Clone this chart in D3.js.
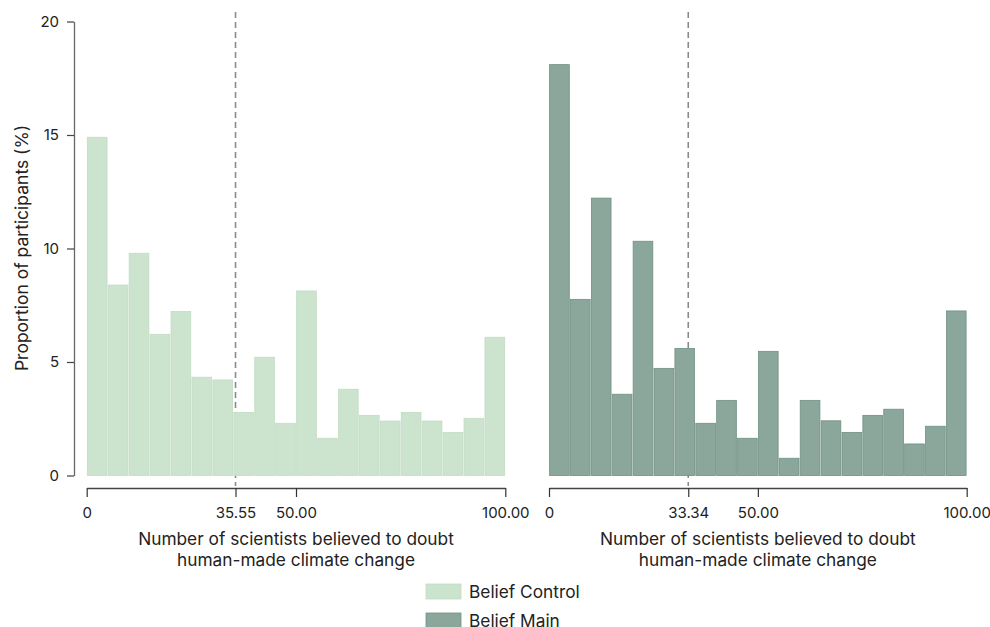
<!DOCTYPE html>
<html>
<head>
<meta charset="utf-8">
<script src="https://cdn.jsdelivr.net/npm/d3@7"></script>
<style>
	body { margin: 0; background: #fff; }
	text { font-family: Inter, "Noto Sans", sans-serif; fill: #222; }
</style>
</head>
<body>
<div id="chart"></div>
<script>
// histogram bins: 20 bins of width 5 on 0..100
const bin_edges = d3.range(0, 100, 5);
const control_values = [14.90, 8.39, 9.79, 6.22, 7.23, 4.33, 4.21, 2.78, 5.21, 2.30,
	8.13, 1.64, 3.80, 2.65, 2.40, 2.78, 2.40, 1.90, 2.52, 6.09];
const main_values = [18.10, 7.76, 12.22, 3.58, 10.32, 4.72, 5.60, 2.30, 3.31, 1.64,
	5.47, 0.76, 3.31, 2.41, 1.90, 2.65, 2.92, 1.39, 2.17, 7.25];
const control_mean = 35.55;
const main_mean = 33.34;
const y_ticks = [0, 5, 10, 15, 20];
const series_names = ["Belief Control", "Belief Main"];
const colors = ["#cce3cd", "#8ba69b"];
const strokes = ["#c2dcc4", "#6f9184"];

const width = 990, height = 627;

const svg = d3.select("#chart").append("svg")
	.attr("width", width)
	.attr("height", height);

const y = d3.scaleLinear().domain([0, 20]).range([475.5, 21.5]);

// y axis only on the left panel
svg.append("g")
	.attr("transform", "translate(74,0)")
	.call(d3.axisLeft(y).tickValues(y_ticks).tickSize(7).tickSizeOuter(0).tickPadding(8))
	.call(g => g.select(".domain").attr("stroke", "#666").attr("stroke-width", 1.3))
	.call(g => g.selectAll(".tick line").attr("stroke", "#444").attr("stroke-width", 1.2))
	.call(g => g.selectAll("text").attr("font-size", 15).attr("fill", "#222")
		.attr("font-family", "Inter, 'Noto Sans', sans-serif"));

svg.append("text")
	.attr("transform", "translate(28,248) rotate(-90)")
	.attr("text-anchor", "middle")
	.attr("font-size", 17.5)
	.text("Proportion of participants (%)");

const panels = [
	{ x0: 86.7, x1: 505.3, values: control_values, mean: control_mean },
	{ x0: 549, x1: 966.7, values: main_values, mean: main_mean }
];

panels.forEach((p, i) => {
	const x = d3.scaleLinear().domain([0, 100]).range([p.x0, p.x1]);
	const g = svg.append("g");

	// mean line (behind bars)
	g.append("line")
		.attr("x1", x(p.mean)).attr("x2", x(p.mean))
		.attr("y1", 12).attr("y2", 486)
		.attr("stroke", "#8a8a8a")
		.attr("stroke-width", 1.6)
		.attr("stroke-dasharray", "6,4");

	g.selectAll("rect.bar")
		.data(bin_edges.map((lo, k) => ({ lo: lo, hi: lo + 5, v: p.values[k] })))
		.join("rect")
		.attr("class", "bar")
		.attr("x", d => x(d.lo) + 0.6)
		.attr("width", d => x(d.hi) - x(d.lo) - 1.2)
		.attr("y", d => y(d.v))
		.attr("height", d => y(0) - y(d.v))
		.attr("fill", colors[i])
		.attr("stroke", strokes[i])
		.attr("stroke-width", 0.8);

	const fmt = v => v === 0 ? "0" : v.toFixed(2);
	svg.append("g")
		.attr("transform", "translate(0,488)")
		.call(d3.axisBottom(x).tickValues([0, p.mean, 50, 100]).tickFormat(fmt)
			.tickSize(9).tickSizeOuter(0).tickPadding(10))
		.call(g => g.select(".domain").attr("stroke", "#444").attr("stroke-width", 1.3))
		.call(g => g.selectAll(".tick line").attr("stroke", "#333").attr("stroke-width", 1.2))
		.call(g => g.selectAll("text").attr("font-size", 15).attr("fill", "#222")
			.attr("font-family", "Inter, 'Noto Sans', sans-serif"));

	const cx = x(50);
	const title = svg.append("text")
		.attr("text-anchor", "middle")
		.attr("font-size", 17.3);
	title.append("tspan").attr("x", cx).attr("y", 545).text("Number of scientists believed to doubt");
	title.append("tspan").attr("x", cx).attr("y", 566).text("human-made climate change");
});

// legend
const legend = svg.append("g").attr("transform", "translate(426,584)");
series_names.forEach((name, i) => {
	const row = legend.append("g").attr("transform", `translate(0,${i * 29})`);
	row.append("rect")
		.attr("width", 35).attr("height", 15)
		.attr("fill", colors[i])
		.attr("stroke", strokes[i]).attr("stroke-width", 0.8);
	row.append("text")
		.attr("x", 43).attr("y", 13.5)
		.attr("font-size", 17.3)
		.text(name);
});
</script>
</body>
</html>
